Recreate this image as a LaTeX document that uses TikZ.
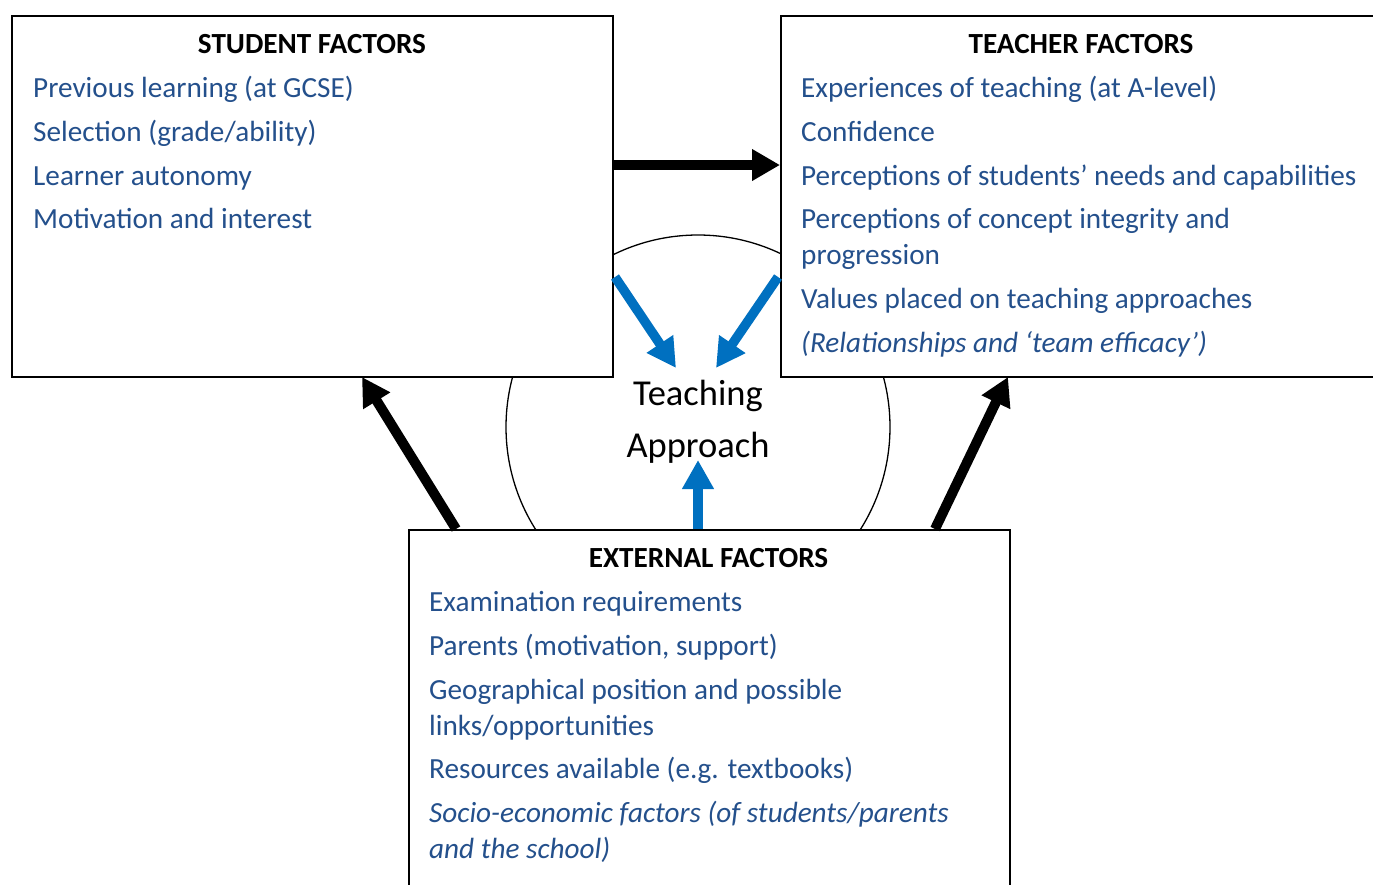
\documentclass[tikz,border=0pt]{standalone}
\usepackage{fontspec}
\setmainfont{Carlito}
\usetikzlibrary{arrows.meta}
\definecolor{itemblue}{RGB}{36,80,140}
\definecolor{arrowblue}{RGB}{0,112,192}
\begin{document}
\begin{tikzpicture}[x=1pt,y=-1pt,
  box/.style={draw=black, line width=1.7pt, fill=white, inner sep=0pt, anchor=north west},
  head/.style={anchor=base, font=\fontsize{29.2}{35}\selectfont\bfseries, text=black, inner sep=0pt},
  item/.style={anchor=base west, font=\fontsize{29.2}{35}\selectfont, text=itemblue, inner sep=0pt},
  itemit/.style={item, font=\fontsize{29.2}{35}\selectfont\itshape},
  centre/.style={anchor=base, font=\fontsize{36.5}{44}\selectfont, text=black, inner sep=0pt},
  bigarrow/.style={line width=10pt, draw=black, -{Triangle[length=28pt,width=30pt]}},
  bluearrow/.style={line width=9.5pt, draw=arrowblue, -{Triangle[length=29pt,width=30pt]}}]
\clip (0,0) rectangle (1373,884);
\fill[white] (0,0) rectangle (1373,884);

% central circle, partly hidden behind the three boxes
\draw[line width=1.3pt] (698,427) circle[radius=192];

% the three boxes
\node[box, minimum width=601pt, minimum height=361pt] (student) at (11,15) {};
\node[box, minimum width=602pt, minimum height=361pt] (teacher) at (780,15) {};
\node[box, minimum width=601pt, minimum height=400pt] (external) at (408,529) {};

% student factors
\node[head] (sh) at (312,53) {STUDENT FACTORS};
\node[item] (s1) at (33,97) {Previous learning (at GCSE)};
\node[item] (s2) at (33,141) {Selection (grade/ability)};
\node[item] (s3) at (33,185) {Learner autonomy};
\node[item] (s4) at (33,228) {Motivation and interest};

% teacher factors
\node[head] (th) at (1081,53) {TEACHER FACTORS};
\node[item] (t1) at (801,97) {Experiences of teaching (at A-level)};
\node[item] (t2) at (801,141) {Confidence};
\node[item] (t3) at (801,185) {Perceptions of students’ needs and capabilities};
\node[item] (t4) at (801,228) {Perceptions of concept integrity and};
\node[item] (t4b) at (801,264) {progression};
\node[item] (t5) at (801,308) {Values placed on teaching approaches};
\node[itemit] (t6) at (801,352) {(Relationships and ‘team efficacy’)};

% external factors
\node[head] (eh) at (708.5,567) {EXTERNAL FACTORS};
\node[item] (e1) at (429,611) {Examination requirements};
\node[item] (e2) at (429,655) {Parents (motivation, support)};
\node[item] (e3) at (429,699) {Geographical position and possible};
\node[item] (e3b) at (429,735) {links/opportunities};
\node[item] (e4) at (429,778) {Resources available (e.g. textbooks)};
\node[itemit] (e5) at (429,822) {Socio-economic factors (of students/parents};
\node[itemit] (e5b) at (429,858) {and the school)};

% centre label
\node[centre] (ta1) at (698,405) {Teaching};
\node[centre] (ta2) at (698,457) {Approach};

% arrow end points on the box edges
\coordinate (sToT) at (student.east |- 0,165);
\coordinate (tFromS) at (teacher.west |- 0,165);
\coordinate (sBlue) at (615,277);
\coordinate (tBlue) at (778,277);
\coordinate (sBlueTip) at (676,368);
\coordinate (tBlueTip) at (716,368);
\coordinate (eBlue) at (698,529);
\coordinate (eBlueTip) at (698,460);
\coordinate (eLeft) at (456,529);
\coordinate (sIn) at (362,377);
\coordinate (eRight) at (935,529);
\coordinate (tIn) at (1008,377);

% connectors
\draw[bigarrow] (sToT) -- (tFromS);
\draw[bigarrow] (eLeft) -- (sIn);
\draw[bigarrow] (eRight) -- (tIn);
\draw[bluearrow] (sBlue) -- (sBlueTip);
\draw[bluearrow] (tBlue) -- (tBlueTip);
\draw[bluearrow] (eBlue) -- (eBlueTip);
\end{tikzpicture}
\end{document}
